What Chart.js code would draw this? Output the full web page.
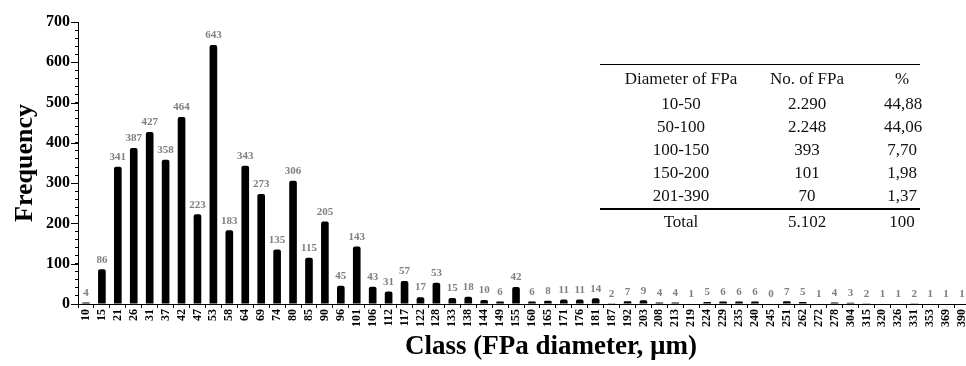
<!DOCTYPE html>
<html>
<head>
<meta charset="utf-8">
<script src="https://cdn.jsdelivr.net/npm/chart.js@4.4.0/dist/chart.umd.min.js"></script>
<style>
    html, body { margin: 0; padding: 0; background: #fff; }
    #wrap { position: relative; width: 966px; height: 366px; overflow: hidden; }
    #summary {
        position: absolute;
        left: 600px;
        top: 64px;
        width: 320px;
        table-layout: fixed;
        border-collapse: collapse;
        font-family: "Liberation Serif", "Times New Roman", serif;
        font-size: 17px;
        color: #111;
    }
    #summary td, #summary th {
        font-weight: normal;
        text-align: center;
        padding: 0;
        white-space: nowrap;
    }
    #summary thead th { border-top: 1px solid #000; height: 27px; }
    #summary tbody td { height: 23.2px; }
    #summary tfoot td { border-top: 2px solid #000; height: 24px; }
    #summary .c3 { padding-left: 32px; }
</style>
</head>
<body>
<div id="wrap">
    <!-- canvas runs a few px past the right edge; the original is cropped there -->
    <canvas id="histChart" width="970" height="366"></canvas>
    <table id="summary">
        <colgroup><col style="width:162px"><col style="width:90px"><col style="width:68px"></colgroup>
        <thead></thead>
        <tbody></tbody>
        <tfoot></tfoot>
    </table>
</div>
<script>
// Histogram classes (FPa diameter, µm)
const classLabels = ['10', '15', '21', '26', '31', '37', '42', '47', '53', '58',
    '64', '69', '74', '80', '85', '90', '96', '101', '106', '112',
    '117', '122', '128', '133', '138', '144', '149', '155', '160', '165',
    '171', '176', '181', '187', '192', '203', '208', '213', '219', '224',
    '229', '235', '240', '245', '251', '262', '272', '278', '304', '315',
    '320', '326', '331', '353', '369', '390'];

// Frequency per class
const frequencies = [4, 86, 341, 387, 427, 358, 464, 223, 643, 183,
    343, 273, 135, 306, 115, 205, 45, 143, 43, 31,
    57, 17, 53, 15, 18, 10, 6, 42, 6, 8,
    11, 11, 14, 2, 7, 9, 4, 4, 1, 5,
    6, 6, 6, 0, 7, 5, 1, 4, 3, 2,
    1, 1, 2, 1, 1, 1];

// Summary table
const tableHeader = ['Diameter of FPa', 'No. of FPa', '%'];
const rangeLabels = ['10-50', '50-100', '100-150', '150-200', '201-390'];
const rangeCounts = ['2.290', '2.248', '393', '101', '70'];
const rangePercents = ['44,88', '44,06', '7,70', '1,98', '1,37'];
const tableTotal = ['Total', '5.102', '100'];

const xTitle = 'Class (FPa diameter, µm)';
const serif = '"Liberation Serif", "Times New Roman", serif';

// Build the inset table
function buildTable() {
    const table = document.getElementById('summary');
    const row = (cells, tag) => '<tr>' + cells.map((c, i) =>
        `<${tag}${i === 2 ? ' class="c3"' : ''}>${c}</${tag}>`).join('') + '</tr>';
    table.tHead.innerHTML = row(tableHeader, 'th');
    table.tBodies[0].innerHTML = rangeLabels.map((label, i) =>
        row([label, rangeCounts[i], rangePercents[i]], 'td')).join('');
    table.tFoot.innerHTML = row(tableTotal, 'td');
}

// Value labels above each bar
const barValueLabels = {
    id: 'barValueLabels',
    afterDatasetsDraw(chart) {
        const ctx = chart.ctx;
        const meta = chart.getDatasetMeta(0);
        ctx.save();
        ctx.font = 'bold 11px ' + serif;
        ctx.fillStyle = '#7f7f7f';
        ctx.textAlign = 'center';
        ctx.textBaseline = 'bottom';
        meta.data.forEach((bar, i) => {
            ctx.fillText(String(frequencies[i]), bar.x, bar.y - 4);
        });
        ctx.restore();
    }
};

// Longer tick marks at the labelled y values, and the x title
const extraDecor = {
    id: 'extraDecor',
    afterDraw(chart) {
        const y = chart.scales.y;
        const ctx = chart.ctx;
        ctx.save();
        ctx.strokeStyle = '#000';
        ctx.lineWidth = 1;
        for (let v = 0; v <= 700; v += 100) {
            const py = Math.round(y.getPixelForValue(v)) + 0.5;
            ctx.beginPath();
            ctx.moveTo(y.right - 7, py);
            ctx.lineTo(y.right, py);
            ctx.stroke();
        }
        // x axis title, sits a little right of centre in the original
        ctx.font = 'bold 27px ' + serif;
        ctx.fillStyle = '#000';
        ctx.textAlign = 'center';
        ctx.textBaseline = 'alphabetic';
        ctx.fillText(xTitle, 551, chart.height - 12);
        ctx.restore();
    }
};

function initializeChart() {
    const ctx = document.getElementById('histChart').getContext('2d');
    new Chart(ctx, {
        type: 'bar',
        data: {
            labels: classLabels,
            datasets: [{
                data: frequencies,
                backgroundColor: '#000',
                borderWidth: 0,
                borderRadius: 2,
                categoryPercentage: 1,
                barPercentage: 0.48
            }]
        },
        options: {
            responsive: false,
            animation: false,
            layout: { padding: { top: 22, right: 0, left: 0, bottom: 0 } },
            plugins: {
                legend: { display: false },
                tooltip: { enabled: false }
            },
            scales: {
                x: {
                    afterFit: scale => {
                        scale.height = 62;
                        scale.paddingLeft = 0;
                        scale.paddingRight = 0;
                    },
                    grid: {
                        display: true,
                        drawOnChartArea: false,
                        tickLength: 4,
                        color: '#000'
                    },
                    border: { color: '#000', width: 1 },
                    ticks: {
                        autoSkip: false,
                        minRotation: 90,
                        maxRotation: 90,
                        padding: 1,
                        color: '#000',
                        font: { family: serif, size: 12, weight: 'bold' }
                    }
                },
                y: {
                    min: 0,
                    max: 700,
                    afterFit: scale => { scale.width = 78; },
                    grid: {
                        display: true,
                        drawOnChartArea: false,
                        tickLength: 3,
                        color: '#000'
                    },
                    border: { color: '#000', width: 1 },
                    ticks: {
                        stepSize: 20,
                        autoSkip: false,
                        padding: 5,
                        color: '#000',
                        font: { family: serif, size: 16, weight: 'bold' },
                        callback: value => value % 100 === 0 ? value : ''
                    },
                    title: {
                        display: true,
                        text: 'Frequency',
                        color: '#000',
                        padding: { top: 10, bottom: 0 },
                        font: { family: serif, size: 26, weight: 'bold' }
                    }
                }
            }
        },
        plugins: [barValueLabels, extraDecor]
    });
}

buildTable();
initializeChart();
</script>
</body>
</html>
